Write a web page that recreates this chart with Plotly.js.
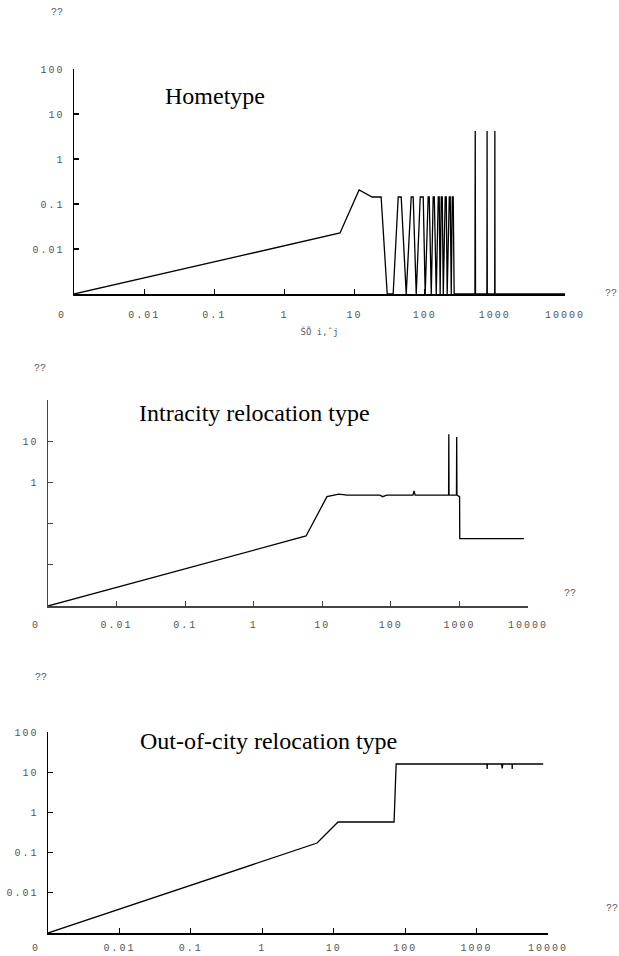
<!DOCTYPE html>
<html>
<head>
<meta charset="utf-8">
<script src="https://cdn.plot.ly/plotly-3.0.1.min.js"></script>
<style>
  html, body { margin: 0; padding: 0; background: #fff; }
  #chart { width: 619px; height: 956px; }
  g[class$="tick"] text { letter-spacing: 2px; }
</style>
</head>
<body>
<div id="chart"></div>
<script>
// ---- Data (zero values are drawn on the floor value 0.001) ----
const homeX = [0.001, 6.2, 11.6, 17.8, 23.9, 29.2, 35.5, 41.9, 46.2, 54.5, 64.2, 68.5, 75.7, 86.3, 95.2, 101.6,
  112, 116, 124, 132, 137, 146, 156, 161, 166, 172, 178, 184, 196, 203, 209, 224, 231, 239, 247, 255, 263,
  520, 525, 530, 770, 775, 780, 995, 1000, 1005, 10000];
const homeY = [0.001, 0.0227, 0.205, 0.143, 0.143, 0.001, 0.001, 0.143, 0.143, 0.001, 0.143, 0.143, 0.001, 0.143, 0.143, 0.001,
  0.143, 0.143, 0.001, 0.143, 0.143, 0.001, 0.143, 0.143, 0.001, 0.143, 0.143, 0.001, 0.143, 0.143, 0.001, 0.143, 0.143, 0.001, 0.143, 0.143, 0.001,
  0.001, 4.2, 0.001, 0.001, 4.2, 0.001, 0.001, 4.2, 0.001, 0.001];

const intraX = [0.001, 5.8, 11.7, 17.4, 23, 69, 76, 87, 210, 218, 226, 695, 700, 705, 905, 912, 920, 1005, 1012, 8690];
const intraY = [0.001, 0.050, 0.45, 0.52, 0.49, 0.49, 0.45, 0.49, 0.49, 0.62, 0.49, 0.49, 14.7, 0.49, 0.49, 12.6, 0.49, 0.45, 0.043, 0.043];

const outX = [0.001, 5.85, 11.5, 70, 74.8, 1400, 1407, 1414, 2240, 2285, 2330, 3140, 3154, 3168, 8570];
const outY = [0.001, 0.173, 0.577, 0.577, 16.0, 16.0, 12.0, 16.0, 16.0, 12.5, 16.0, 16.0, 12.0, 16.0, 16.0];

// ---- Tick labels ----
const xTickVals = [0.001, 0.01, 0.1, 1, 10, 100, 1000, 10000];
const xTickText = ["0\u00a0\u00a0\u00a0", "0.01", "0.1", "1", "10", "100", "1000", "10000"];
const yTickVals = [0.01, 0.1, 1, 10, 100];
const yTickText1 = ["0.01", "0.1", "1", "10", "100"];
const yTickText2 = ["", "", "1", "10", ""];
const yTickText3 = ["0.01", "0.1", "1", "10", "100"];

const panelTitles = ["Hometype", "Intracity relocation type", "Out-of-city relocation type"];
const xLabel1 = "ŠÕ i,ˆj";
const unknownLabel = "??";

// ---- Layout helpers ----
const W = 619, H = 956;
const px = v => v / W;
const py = v => 1 - v / H;

const tickFont = { family: "Liberation Mono, monospace", size: 10, color: "#555" };

function xAxis(x0, x1, anchor, lineColor, standoff) {
  return {
    type: "log", range: [-3, 4], domain: [px(x0), px(x1)], anchor: anchor,
    showgrid: false, zeroline: false, showline: true, linecolor: lineColor, linewidth: 1.5,
    ticks: "inside", ticklen: 5, tickwidth: 1.2, tickcolor: lineColor,
    tickmode: "array", tickvals: xTickVals, ticktext: xTickText,
    tickfont: tickFont, ticklabelstandoff: standoff, fixedrange: true
  };
}
function yAxis(top, bottom, anchor, text, lineColor) {
  return {
    type: "log", range: [-3, 2], domain: [py(bottom), py(top)], anchor: anchor,
    showgrid: false, zeroline: false, showline: true, linecolor: lineColor, linewidth: 1.5,
    ticks: "inside", ticklen: 5, tickwidth: 1.2, tickcolor: lineColor,
    tickmode: "array", tickvals: yTickVals, ticktext: text,
    tickfont: tickFont, ticklabelstandoff: 6, fixedrange: true
  };
}

const lineStyle = { color: "#000", width: 1.3 };
const traces = [
  { x: homeX, y: homeY, xaxis: "x", yaxis: "y", mode: "lines", line: lineStyle, hoverinfo: "skip" },
  { x: intraX, y: intraY, xaxis: "x2", yaxis: "y2", mode: "lines", line: lineStyle, hoverinfo: "skip" },
  { x: outX, y: outY, xaxis: "x3", yaxis: "y3", mode: "lines", line: lineStyle, hoverinfo: "skip" }
];

const titleFont = { family: "Liberation Serif, Times New Roman, serif", size: 24, color: "#000" };
const qFont = { family: "Liberation Mono, monospace", size: 10, color: "#555" };

function ann(text, x, y, font, anchor) {
  return { text: text, xref: "paper", yref: "paper", x: px(x), y: py(y),
           xanchor: anchor || "center", yanchor: "middle", showarrow: false, font: font };
}

const layout = {
  width: W, height: H,
  margin: { l: 0, r: 0, t: 0, b: 0 },
  paper_bgcolor: "#fff", plot_bgcolor: "#fff",
  showlegend: false,
  xaxis: Object.assign(xAxis(74, 565, "y", "#000", 10), {
    title: { text: xLabel1, font: { family: "DejaVu Sans Mono, monospace", size: 9, color: "#555" }, standoff: 9 }
  }),
  yaxis: yAxis(69, 294, "x", yTickText1, "#000"),
  xaxis2: xAxis(48, 528, "y2", "#444", 8),
  yaxis2: yAxis(400, 606, "x2", yTickText2, "#444"),
  xaxis3: xAxis(48, 548, "y3", "#000", 4),
  yaxis3: yAxis(732, 933, "x3", yTickText3, "#000"),
  annotations: [
    ann(panelTitles[0], 215, 96, titleFont),
    ann(panelTitles[1], 254, 413, titleFont),
    ann(panelTitles[2], 268, 741, titleFont),
    ann(unknownLabel, 57, 13, qFont),
    ann(unknownLabel, 611, 293, qFont),
    ann(unknownLabel, 40, 368, qFont),
    ann(unknownLabel, 570, 593, qFont),
    ann(unknownLabel, 41, 677, qFont),
    ann(unknownLabel, 612, 908, qFont)
  ]
};

Plotly.newPlot("chart", traces, layout, { staticPlot: true, displayModeBar: false });
</script>
</body>
</html>
